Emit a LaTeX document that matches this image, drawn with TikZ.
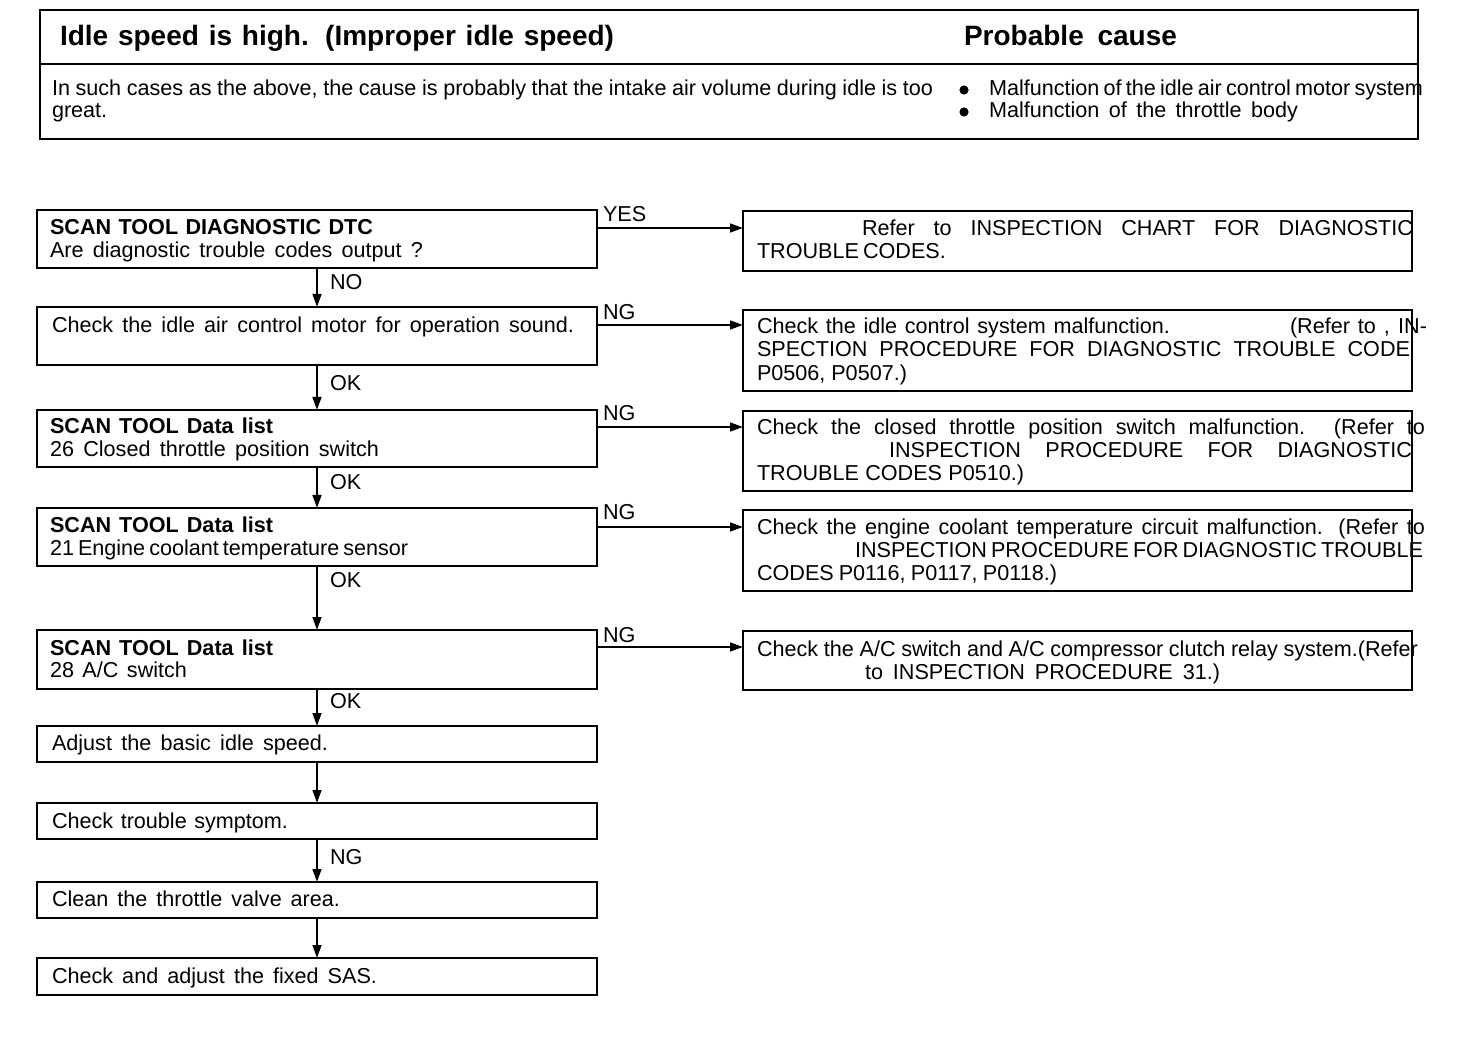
\documentclass[tikz,border=0pt]{standalone}
\usepackage{fontspec}
\setmainfont{Liberation Sans}
\usetikzlibrary{arrows.meta}
\newdimen\pxu \pxu=0.5pt
\newcommand\Tline[5]{\node[txt] (#1) at (#2,#3) {\makebox[#4\pxu][s]{#5}};}
\newcommand\Tnat[4]{\node[txt] (#1) at (#2,#3) {#4};}
\begin{document}
\begin{tikzpicture}[x=0.5pt,y=-0.5pt,
  box/.style={draw, line width=1.2pt, rectangle, inner sep=0pt, outer sep=0pt},
  lbox/.style={box, minimum width=280pt},
  rbox/.style={box, minimum width=334.5pt},
  txt/.style={anchor=base west, inner sep=0pt, outer sep=0pt, font=\fontsize{10.8}{13}\selectfont},
  ttl/.style={anchor=base west, inner sep=0pt, outer sep=0pt, font=\fontsize{14}{16}\selectfont\bfseries},
  arr/.style={line width=1pt, -{Triangle[length=6.5pt,width=4.4pt]}},
  dot/.style={circle, fill, inner sep=0pt, minimum size=4.6pt}]
\useasboundingbox (0,0) rectangle (1472,1042);
\fill[white] (0,0) rectangle (1472,1042);

% ---------- header ----------
\node[box, minimum width=689pt, minimum height=64.5pt] (hdr) at (729,74.5) {};
\draw[line width=1.2pt] (hdr.west |- 0,64) -- (hdr.east |- 0,64);
\node[ttl] (title) at (60,46) {\makebox[554\pxu][s]{Idle speed is high. (Improper idle speed)}};
\node[ttl] (pcause) at (964,46) {\makebox[213\pxu][s]{Probable cause}};
\Tline{hb1}{52}{96}{881}{In such cases as the above, the cause is probably that the intake air volume during idle is too}
\Tnat{hb2}{52}{118}{great.}
\node[dot] (d1) at (964,90) {};
\node[dot] (d2) at (964,112) {};
\Tline{pc1}{989}{96}{434}{Malfunction of the idle air control motor system}
\Tline{pc2}{989}{118}{309}{Malfunction  of  the  throttle  body}

% ---------- left column ----------
\node[lbox, minimum height=29pt]   (b1) at (317,239) {};
\node[lbox, minimum height=29pt]   (b2) at (317,336) {};
\node[lbox, minimum height=28.5pt] (b3) at (317,438.5) {};
\node[lbox, minimum height=29pt]   (b4) at (317,537) {};
\node[lbox, minimum height=29.5pt] (b5) at (317,659.5) {};
\node[lbox, minimum height=18pt]   (b6) at (317,744) {};
\node[lbox, minimum height=18pt]   (b7) at (317,821) {};
\node[lbox, minimum height=18pt]   (b8) at (317,900) {};
\node[lbox, minimum height=18.5pt] (b9) at (317,976.5) {};

\Tline{b1a}{50}{235}{323}{\bfseries SCAN TOOL DIAGNOSTIC DTC}
\Tline{b1b}{50}{258}{373}{Are diagnostic trouble codes output ?}
\Tline{b2a}{52}{333}{522}{Check the idle air control motor for operation sound.}
\Tline{b3a}{50}{434}{223}{\bfseries SCAN TOOL Data list}
\Tline{b3b}{50}{457}{329}{26 Closed throttle position switch}
\Tline{b4a}{50}{533}{223}{\bfseries SCAN TOOL Data list}
\Tline{b4b}{50}{556}{356}{21 Engine coolant temperature sensor}
\Tline{b5a}{50}{655}{223}{\bfseries SCAN TOOL Data list}
\Tline{b5b}{50}{677}{137}{28 A/C switch}
\Tline{b6a}{52}{750}{276}{Adjust the basic idle speed.}
\Tline{b7a}{52}{828}{236}{Check trouble symptom.}
\Tline{b8a}{52}{906}{288}{Clean the throttle valve area.}
\Tline{b9a}{52}{983}{325}{Check and adjust the fixed SAS.}

% ---------- right column ----------
\node[rbox, minimum height=30pt]   (r1) at (1077.5,241) {};
\node[rbox, minimum height=40.5pt] (r2) at (1077.5,350.5) {};
\node[rbox, minimum height=40pt]   (r3) at (1077.5,451) {};
\node[rbox, minimum height=40.5pt] (r4) at (1077.5,550.5) {};
\node[rbox, minimum height=29.5pt] (r5) at (1077.5,660.5) {};

\Tline{r1a}{862}{236}{551}{Refer to INSPECTION CHART FOR DIAGNOSTIC}
\Tline{r1b}{757}{259}{188}{TROUBLE CODES.}
\Tline{r2a}{757}{334}{413}{Check the idle control system malfunction.}
\Tline{r2b}{1290}{334}{137}{(Refer to , IN-}
\Tline{r2c}{757}{357}{653}{SPECTION PROCEDURE FOR DIAGNOSTIC TROUBLE CODE}
\Tline{r2d}{757}{381}{150}{P0506, P0507.)}
\Tline{r3a}{757}{435}{668}{Check the closed throttle position switch malfunction. (Refer to}
\Tline{r3b}{889}{458}{523}{INSPECTION PROCEDURE FOR DIAGNOSTIC}
\Tline{r3c}{757}{481}{267}{TROUBLE CODES P0510.)}
\Tline{r4a}{757}{535}{668}{Check the engine coolant temperature circuit malfunction. (Refer to}
\Tline{r4b}{855}{558}{557}{INSPECTION PROCEDURE FOR DIAGNOSTIC TROUBLE}
\Tline{r4c}{757}{581}{300}{CODES P0116, P0117, P0118.)}
\Tline{r5a}{757}{656}{661}{Check the A/C switch and A/C compressor clutch relay system.(Refer}
\Tline{r5b}{865}{679}{355}{to INSPECTION PROCEDURE 31.)}

% ---------- connectors ----------
\draw[arr] (b1.south) -- (b2.north);
\draw[arr] (b2.south) -- (b3.north);
\draw[arr] (b3.south) -- (b4.north);
\draw[arr] (b4.south) -- (b5.north);
\draw[arr] (b5.south) -- (b6.north);
\draw[arr] (b6.south) -- (b7.north);
\draw[arr] (b7.south) -- (b8.north);
\draw[arr] (b8.south) -- (b9.north);

\draw[arr] (b1.east |- 0,228) -- (r1.west |- 0,228);
\draw[arr] (b2.east |- 0,325) -- (r2.west |- 0,325);
\draw[arr] (b3.east |- 0,427) -- (r3.west |- 0,427);
\draw[arr] (b4.east |- 0,527) -- (r4.west |- 0,527);
\draw[arr] (b5.east |- 0,647) -- (r5.west |- 0,647);

% ---------- connector labels ----------
\Tnat{lyes}{603}{222}{YES}
\Tnat{lng1}{603}{320}{NG}
\Tnat{lng2}{603}{421}{NG}
\Tnat{lng3}{603}{520}{NG}
\Tnat{lng4}{603}{642}{NG}
\Tnat{lno}{330}{290}{NO}
\Tnat{lok1}{330}{391}{OK}
\Tnat{lok2}{330}{490}{OK}
\Tnat{lok3}{330}{588}{OK}
\Tnat{lok4}{330}{708}{OK}
\Tnat{lng5}{330}{864}{NG}
\end{tikzpicture}
\end{document}
